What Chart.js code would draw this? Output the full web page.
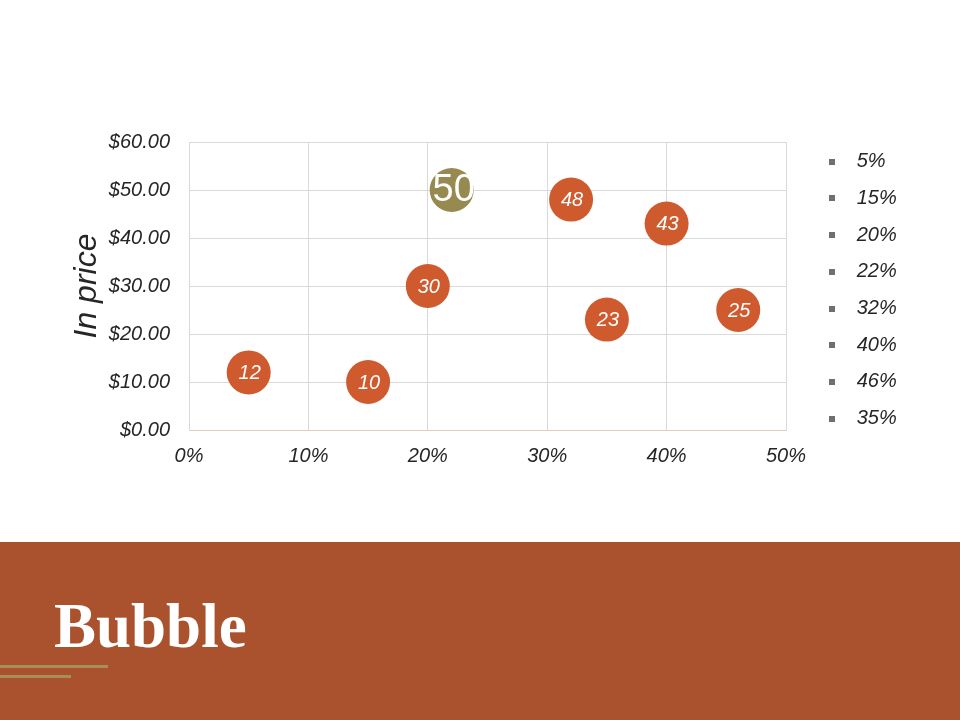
<!DOCTYPE html>
<html>
<head>
<meta charset="utf-8">
<script src="https://cdn.jsdelivr.net/npm/chart.js@4/dist/chart.umd.min.js"></script>
<style>
  html, body { margin: 0; padding: 0; background: #ffffff; }
  #wrap { position: relative; width: 960px; height: 720px; overflow: hidden; background: #fff; }
  #chartBox { position: absolute; left: 0; top: 0; width: 960px; height: 540px; }
  #band { position: absolute; left: 0; top: 542px; width: 960px; height: 178px; background: #aa512d; }
  #title { position: absolute; left: 54px; top: 589px; margin: 0; font-family: "Liberation Serif", "DejaVu Serif", serif; font-weight: bold; font-size: 63px; line-height: 74px; color: #ffffff; }
  .rule { position: absolute; left: 0; height: 3px; background: #a68f58; }
</style>
</head>
<body>
<div id="wrap">
  <div id="chartBox"><canvas id="c"></canvas></div>
  <div id="band"></div>
  <div id="title">Bubble</div>
  <div class="rule" style="top:665px; width:108px;"></div>
  <div class="rule" style="top:675px; width:71px;"></div>
</div>
<script>
// ---- data ----
const seriesNames = ['5%', '15%', '20%', '22%', '32%', '40%', '46%', '35%'];
const xValues = [5, 15, 20, 22, 32, 40, 46, 35];     // percent
const yValues = [12, 10, 30, 50, 48, 43, 25, 23];    // price in $
const bubbleLabels = ['12', '10', '30', '50', '48', '43', '25', '23'];
const highlightName = '22%';
const xTicks = [0, 10, 20, 30, 40, 50];
const yTicks = [0, 10, 20, 30, 40, 50, 60];

const ORANGE = '#cf5a2e';
const OLIVE = '#968a51';
const BUBBLE_R = 22;

const datasets = seriesNames.map((name, i) => ({
  label: name,
  data: [{ x: xValues[i], y: yValues[i], r: BUBBLE_R }],
  backgroundColor: name === highlightName ? OLIVE : ORANGE,
  borderColor: name === highlightName ? OLIVE : ORANGE,
  borderWidth: 0,
  hoverRadius: 0
}));

// small grey square used as legend marker
const marker = document.createElement('canvas');
marker.width = 6; marker.height = 6;
(function () { const g = marker.getContext('2d'); g.fillStyle = '#6f6f6f'; g.fillRect(0, 0, 6, 6); })();

const bubbleTextPlugin = {
  id: 'bubbleText',
  afterDatasetsDraw(chart) {
    const ctx = chart.ctx;
    chart.data.datasets.forEach((ds, i) => {
      const meta = chart.getDatasetMeta(i);
      meta.data.forEach((el) => {
        const big = ds.label === highlightName;
        ctx.save();
        ctx.fillStyle = '#ffffff';
        ctx.textAlign = 'center';
        ctx.textBaseline = 'middle';
        ctx.font = big ? '38px "Liberation Sans", Arial, sans-serif' : 'italic 20px "Liberation Sans", Arial, sans-serif';
        ctx.fillText(bubbleLabels[i], el.x + (big ? 2 : 1), el.y + 1);
        ctx.restore();
      });
    });
  }
};

const legendPlacePlugin = {
  id: 'legendPlace',
  afterLayout(chart) {
    const lg = chart.legend;
    if (!lg) return;
    lg.left = 800; lg.right = 960;
    lg.top = 135; lg.bottom = 540;
  }
};

const font = (size, style) => ({ family: '"Liberation Sans", Arial, sans-serif', size: size, style: style || 'italic' });

new Chart(document.getElementById('c'), {
  type: 'bubble',
  data: { datasets: datasets },
  plugins: [bubbleTextPlugin, legendPlacePlugin],
  options: {
    responsive: true,
    maintainAspectRatio: false,
    animation: false,
    layout: { padding: { left: 0, right: 114, top: 0, bottom: 0 } },
    plugins: {
      title: { display: true, text: '', font: { size: 10, lineHeight: 1.2 }, padding: { top: 130, bottom: 0 } },
      tooltip: { enabled: false },
      legend: {
        display: true,
        position: 'right',
        align: 'start',
        maxWidth: 60,
        labels: {
          usePointStyle: true,
          pointStyle: marker,
          pointStyleWidth: 30,
          boxHeight: 6,
          padding: 16.7,
          color: '#262626',
          font: font(20)
        }
      }
    },
    scales: {
      x: {
        type: 'linear',
        min: 0, max: 50,
        afterFit(s) { s.height = 110; },
        afterBuildTicks(s) { s.ticks = xTicks.map(v => ({ value: v })); },
        ticks: { callback: v => v + '%', color: '#262626', font: font(20), padding: 14 },
        grid: { color: '#d9d9d9', drawTicks: false },
        border: { color: '#e3cbbd' }
      },
      y: {
        type: 'linear',
        min: 0, max: 60,
        afterFit(s) { s.width = 189; },
        afterBuildTicks(s) { s.ticks = yTicks.map(v => ({ value: v })); },
        ticks: { callback: v => '$' + Number(v).toFixed(2), color: '#262626', font: font(20), padding: 19 },
        grid: { color: '#d9d9d9', drawTicks: false },
        border: { color: '#d9d9d9' },
        title: { display: true, text: 'In price', color: '#262626', font: font(32), padding: { top: 68, bottom: 0 } }
      }
    }
  }
});
</script>
</body>
</html>
